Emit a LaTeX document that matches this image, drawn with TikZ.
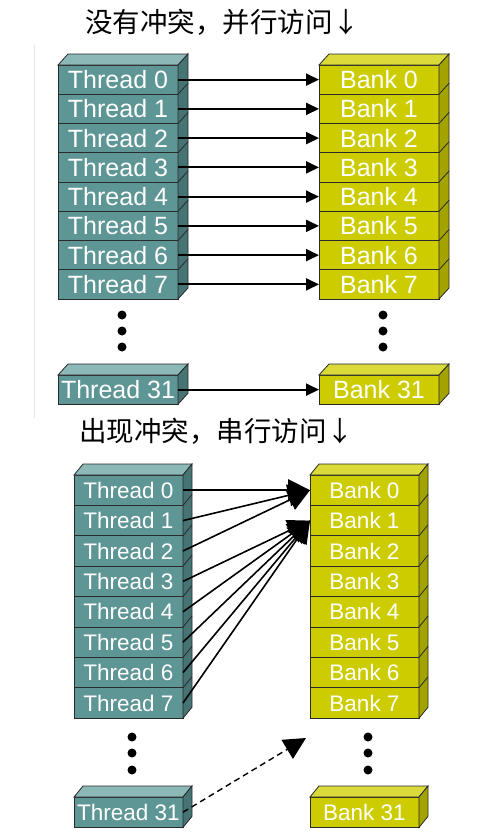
\documentclass[tikz,border=0pt]{standalone}
\usepackage{fontspec}
\setmainfont{Liberation Sans}
\newfontfamily\cjk{Noto Sans CJK SC}
\usetikzlibrary{arrows.meta,calc}
\definecolor{tF}{HTML}{5E9595}
\definecolor{tT}{HTML}{8DB8B8}
\definecolor{tS}{HTML}{467474}
\definecolor{bF}{HTML}{CCCC00}
\definecolor{bT}{HTML}{DADA3A}
\definecolor{bS}{HTML}{A3A300}
\definecolor{edge}{HTML}{2A2A2A}
\newcommand\boxfaces[6]{%
  \filldraw[fill=#5, draw=edge, line width=0.8pt] (#1.north west) -- ++(#3,-#4) -- ($(#1.north east)+(#3,-#4)$) -- (#1.north east) -- cycle;
  \filldraw[fill=#6, draw=edge, line width=0.8pt] (#1.north east) -- ++(#3,-#4) -- ($(#2.south east)+(#3,-#4)$) -- (#2.south east) -- cycle;
}
\begin{document}
\begin{tikzpicture}[x=1pt,y=-1pt,
  row/.style={draw=edge, line width=0.8pt, anchor=north west, inner sep=0pt, outer sep=0pt, text=white},
  thr/.style={row, fill=tF},
  bnk/.style={row, fill=bF},
  big/.style={minimum width=120pt, minimum height=29.25pt, font=\fontsize{25}{25}\selectfont},
  small/.style={minimum width=109pt, minimum height=30.4pt, font=\fontsize{22.5}{22.5}\selectfont},
  link/.style={line width=2pt, -{Triangle[length=13pt,width=12pt]}},
  blink/.style={line width=1.6pt, -{Triangle[length=22pt,width=22pt]}},
  dot/.style={circle, fill=black, inner sep=0pt, minimum size=9pt},
  title/.style={font=\cjk\fontsize{27.5}{27.5}\selectfont, anchor=west, inner sep=0pt}]
\useasboundingbox (0,0) rectangle (490,839);
\fill[white] (0,0) rectangle (490,839);
\draw[gray!20, line width=1pt] (34,45) -- (34,418);

% titles
\node[title] (h1) at (85,22) {没有冲突，并行访问↓};
\node[title] (h2) at (79,431) {出现冲突，串行访问↓};

% ---------- top panel ----------
\foreach \i in {0,...,7} {
  \node[thr,big] (t\i) at (58,{65+29.25*\i}) {Thread \i};
  \node[bnk,big] (b\i) at (319,{65+29.25*\i}) {Bank \i};
}
\boxfaces{t0}{t7}{10}{11}{tT}{tS}
\boxfaces{b0}{b7}{10}{11}{bT}{bS}
\foreach \i in {0,...,6} {
  \draw[edge, line width=0.8pt] (t\i.south east) -- ++(10,-11);
  \draw[edge, line width=0.8pt] (b\i.south east) -- ++(10,-11);
}
\node[thr,big] (t31) at (58,375) {Thread 31};
\node[bnk,big] (b31) at (319,375) {Bank 31};
\boxfaces{t31}{t31}{10}{11}{tT}{tS}
\boxfaces{b31}{b31}{10}{11}{bT}{bS}
\foreach \y [count=\k] in {315,331,347} {
  \node[dot] (ld\k) at (122,\y) {};
  \node[dot] (rd\k) at (383,\y) {};
}
\foreach \i in {0,...,7} \draw[link] (t\i.east) -- (b\i.west);
\draw[link] (t31.east) -- (b31.west);

% ---------- bottom panel ----------
\foreach \i in {0,...,7} {
  \node[thr,small] (u\i) at (74,{475+30.4*\i}) {Thread \i};
  \node[bnk,small] (c\i) at (310,{475+30.4*\i}) {Bank \i};
}
\boxfaces{u0}{u7}{9}{11}{tT}{tS}
\boxfaces{c0}{c7}{9}{11}{bT}{bS}
\foreach \i in {0,...,6} {
  \draw[edge, line width=0.8pt] (u\i.south east) -- ++(9,-11);
  \draw[edge, line width=0.8pt] (c\i.south east) -- ++(9,-11);
}
\node[thr,small] (u31) at (74,797) {Thread 31};
\node[bnk,small] (c31) at (310,797) {Bank 31};
\boxfaces{u31}{u31}{9}{11}{tT}{tS}
\boxfaces{c31}{c31}{9}{11}{bT}{bS}
\foreach \y [count=\k] in {737,753,770} {
  \node[dot] (lu\k) at (132,\y) {};
  \node[dot] (ru\k) at (368,\y) {};
}
\foreach \i in {0,1,2} \draw[blink] (u\i.east) -- (c0.west);
\foreach \i in {3,...,7} \draw[blink] (u\i.east) -- (c1.west);
\coordinate (dd) at (306,738);
\draw[blink, dashed, dash pattern=on 6pt off 4pt, line width=1.4pt] (u31.east) -- (dd);
\end{tikzpicture}
\end{document}
